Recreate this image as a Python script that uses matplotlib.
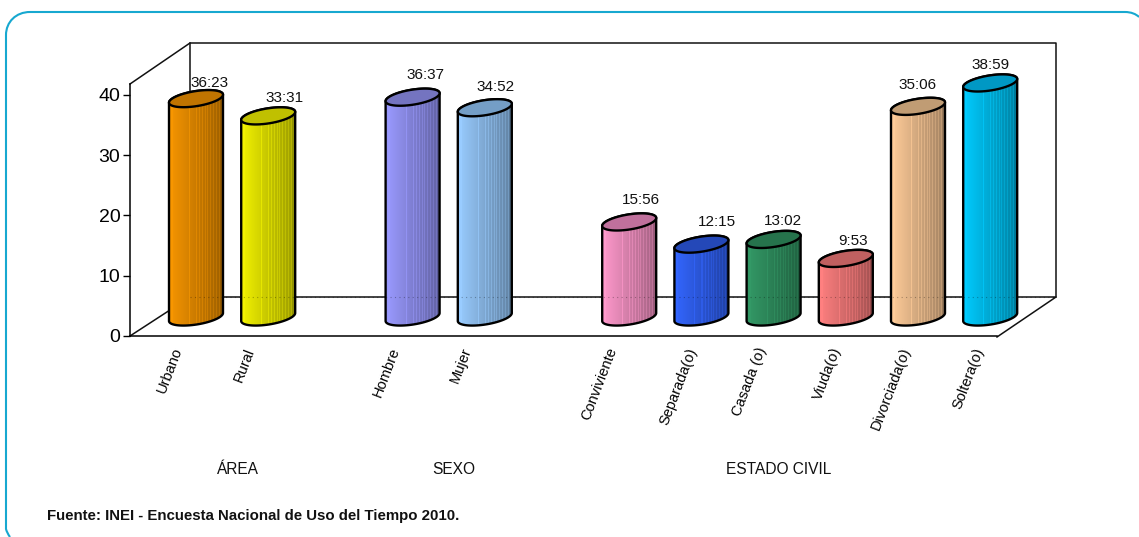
import matplotlib
matplotlib.use('Agg')
import matplotlib.pyplot as plt
import numpy as np
from matplotlib.patches import PathPatch, Polygon
from matplotlib.path import Path
from matplotlib.transforms import ScaledTranslation
from matplotlib.colors import to_rgb

plt.rcParams['font.family'] = ['Liberation Sans', 'DejaVu Sans']

# hours, with the h:mm label as printed on the chart
categories = ['Urbano', 'Rural', 'Hombre', 'Mujer', 'Conviviente', 'Separada(o)',
              'Casada (o)', 'Viuda(o)', 'Divorciada(o)', 'Soltera(o)']
slots = [0, 1, 3, 4, 6, 7, 8, 9, 10, 11]
values = [36.38, 33.52, 36.62, 34.87, 15.93, 12.25, 13.03, 9.88, 35.10, 38.98]
value_labels = ['36:23', '33:31', '36:37', '34:52', '15:56', '12:15', '13:02', '9:53', '35:06', '38:59']
light_colors = ['#f79600', '#f2f200', '#9a9aff', '#99ccff', '#ff99cc', '#3366ff',
                '#339966', '#ff8080', '#ffcc99', '#00ccff']
top_colors = ['#c07400', '#c0c000', '#7474c0', '#749ec6', '#c0709c', '#2448b8',
              '#26734c', '#c06060', '#c09c74', '#0098c4']
groups = ['ÁREA', 'SEXO', 'ESTADO CIVIL']
group_x = [0.58, 3.57, 8.07]
y_ticks = [0, 10, 20, 30, 40]

# label placement in pixels, hand-tuned per bar
label_dx = [14, 16, 13, 11, 12, 16, 9, 7, 0, 0]
label_dy = [16, 18, 22, 21, 22, 22, 18, 17, 21, 18]
cat_shift = [-24, -24, -23, -24, -23, -15, -18, -15, -18, -17]

W, H = 1139, 537
PX_X = 72.2          # pixels per slot
PX_Y = 6.03          # pixels per hour
X0, Y0 = 196, 336    # pixel of slot 0 and of value 0


def dx(px):
    return px / PX_X


def dy(px):
    return px / PX_Y


def fx(px):
    return (px - X0) / PX_X


def fy(px):
    return (Y0 - px) / PX_Y


fig = plt.figure(figsize=(W / 100, H / 100), dpi=100)
ax = fig.add_axes([0, 0, 1, 1])
ax.patch.set_visible(False)

# rounded border
verts = [(10, 537), (7, 533), (6, 529), (6, 525),
         (6, 35), (6, 22), (16, 12), (30, 12),
         (1125, 12), (1131, 12), (1136, 14), (1139, 17)]
codes = [Path.MOVETO, Path.CURVE3, Path.CURVE3, Path.LINETO,
         Path.LINETO, Path.CURVE4, Path.CURVE4, Path.CURVE4,
         Path.LINETO, Path.CURVE4, Path.CURVE4, Path.CURVE4]
border = Path([(fx(a), fy(b)) for a, b in verts], codes)
ax.add_patch(PathPatch(border, fc='none', ec='#17a8d0', lw=1.5))

# walls of the 3d box
box = [[(130, 84), (190, 43), (1056, 43), (1056, 297)],
       [(190, 43), (190, 297)],
       [(130, 336), (190, 297), (1056, 297), (997, 337)]]
for seg in box:
    ax.plot([fx(p[0]) for p in seg], [fy(p[1]) for p in seg], color='#111111', lw=1.1, zorder=1)

# axes lines and ticks come from the real spines
for s in ['top', 'right']:
    ax.spines[s].set_visible(False)
ax.spines['left'].set_position(('data', fx(130)))
ax.spines['left'].set_bounds(0, fy(84))
ax.spines['bottom'].set_position(('data', 0))
ax.spines['bottom'].set_bounds(fx(130), fx(997))
ax.spines['left'].set_linewidth(1.1)
ax.spines['bottom'].set_linewidth(1.1)
ax.set_yticks(y_ticks)
ax.tick_params(axis='y', length=5, width=1, labelsize=14, pad=2)
ax.set_xticks(slots)
ax.set_xticklabels(categories, rotation=69, ha='right', va='top', rotation_mode='anchor', fontsize=10.5)
ax.tick_params(axis='x', length=0, pad=7)
for lab, shift in zip(ax.get_xticklabels(), cat_shift):
    lab.set_transform(lab.get_transform() + ScaledTranslation(shift / 100, 0, fig.dpi_scale_trans))

# shading across one cylinder, with the pale streaks of the original
shade = np.linspace(1.0, 0.64, 54)
for i in [2, 3, 20, 27, 30, 33, 36, 38, 41, 44, 47, 50]:
    shade[i] = min(shade[i] + 0.09, 1.0)
shade[51:] *= 0.92

t = np.linspace(0, 2 * np.pi, 145)[:-1]
A, B, TILT = 27.5, 7.5, np.radians(9)
ex = A * np.cos(t) * np.cos(TILT) - B * np.sin(t) * np.sin(TILT)
ey = A * np.cos(t) * np.sin(TILT) + B * np.sin(t) * np.cos(TILT)
ex = ex * 27.0 / ex.max()
i_r = int(np.argmax(ex))
i_l = int(np.argmin(ex))
n = len(t)
upper = [(i_r + k) % n for k in range((i_l - i_r) % n + 1)]   # right to left over the top
lower = [(i_l + k) % n for k in range((i_r - i_l) % n + 1)]   # left to right under the bottom

floor_base = dy(19)
top_base = dy(18)

for s, v, lab, c1, c2, ldx, ldy in zip(slots, values, value_labels, light_colors, top_colors, label_dx, label_dy):
    top = top_base + v
    ell_x = s + dx(ex)
    ell_y = dy(ey)
    xs = np.r_[ell_x[lower], ell_x[upper]]
    ys = np.r_[floor_base + ell_y[lower], top + ell_y[upper]]
    body = Polygon(np.c_[xs, ys], closed=True, fc='none', ec='none', zorder=3)
    ax.add_patch(body)
    rgb = np.array(to_rgb(c1))
    grad = np.clip(rgb[None, :] * shade[:, None], 0, 1)[None, :, :]
    im = ax.imshow(grad, extent=[s - dx(27), s + dx(27), floor_base - dy(15), top + dy(15)],
                   aspect='auto', zorder=3, interpolation='nearest', origin='lower')
    im.set_clip_path(body)
    ax.add_patch(Polygon(np.c_[xs, ys], closed=True, fc='none', ec='black', lw=1.7, zorder=4))
    ax.add_patch(Polygon(np.c_[ell_x, top + ell_y], closed=True, fc=c2, ec='black', lw=1.7, zorder=5))
    ax.text(s + dx(ldx), top + dy(ldy), lab, ha='center', va='center', fontsize=11, color='#111111', zorder=6)

# floor line shows faintly through the bars
ax.plot([fx(190), fx(1056)], [fy(297), fy(297)], color='black', lw=0.8, ls=(0, (1, 3)), alpha=0.3, zorder=3.5)

ax.set_xlim(fx(0), fx(W))
ax.set_ylim(fy(H), fy(0))

for g, x in zip(groups, group_x):
    ax.text(x, fy(470), g, ha='center', va='center', fontsize=11.2, color='#111111')
ax.text(fx(47), fy(516), 'Fuente: INEI - Encuesta Nacional de Uso del Tiempo 2010.', ha='left', va='center',
        fontsize=10.8, fontweight='bold', color='#111111')

fig.savefig('out.png', dpi=100)
